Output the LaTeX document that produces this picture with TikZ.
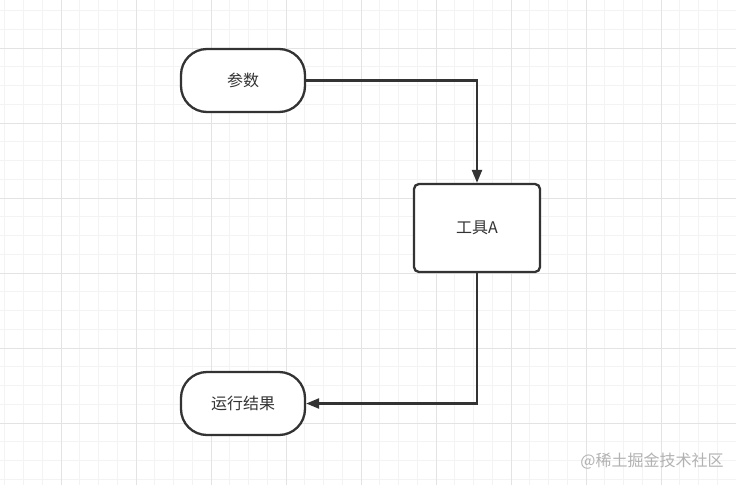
\documentclass[tikz,border=0pt]{standalone}
\usepackage{fontspec}
\setmainfont{Noto Sans CJK SC}
\usetikzlibrary{arrows.meta,positioning}
\definecolor{inkgray}{HTML}{333333}
\definecolor{gridminor}{HTML}{F3F3F3}
\definecolor{gridmajor}{HTML}{E3E3E3}

\begin{document}
\begin{tikzpicture}[
  x=1pt,y=-1pt,
  term/.style={rectangle,draw=inkgray,line width=2.3pt,rounded corners=26pt,minimum width=124pt,minimum height=63pt,align=center,fill=white,font=\fontsize{16}{19}\selectfont,text=inkgray},
  tool/.style={rectangle,draw=inkgray,line width=2.3pt,rounded corners=5pt,minimum width=126pt,minimum height=88pt,align=center,fill=white,font=\fontsize{16}{19}\selectfont,text=inkgray},
  link/.style={line width=2.3pt,inkgray,-{Triangle[length=13pt,width=10pt]}}
]
\useasboundingbox (0,0) rectangle (736,485);
\fill[white] (0,0) rectangle (736,485);
% grid
\foreach \i in {0,...,39}{
  \draw[gridminor,line width=1pt] (4.75+18.75*\i,0) -- (4.75+18.75*\i,485);
}
\foreach \j in {0,...,25}{
  \draw[gridminor,line width=1pt] (0,10.5+18.75*\j) -- (736,10.5+18.75*\j);
}
\foreach \i in {0,...,9}{
  \draw[gridmajor,line width=1pt] (61+75*\i,0) -- (61+75*\i,485);
}
\foreach \j in {0,...,6}{
  \draw[gridmajor,line width=1pt] (0,48+75*\j) -- (736,48+75*\j);
}
% nodes
\node[term] (param) at (243,80.5) {参数};
\node[tool] (toolA) at (477,228) {工具A};
\node[term] (result) at (243,403.5) {运行结果};
\draw[link] (param.east) -| (toolA.north);
\draw[link] (toolA.south) |- (result.east);
\node[text=black!30,font=\fontsize{16}{19}\selectfont] (mark) at (652,461) {@稀土掘金技术社区};
\end{tikzpicture}
\end{document}
